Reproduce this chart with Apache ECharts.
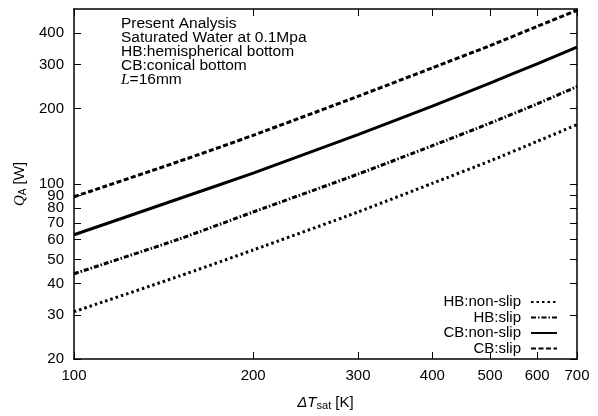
<!DOCTYPE html>
<html>
<head>
<meta charset="utf-8">
<script src="https://cdn.jsdelivr.net/npm/echarts@6/dist/echarts.min.js"></script>
<style>
html,body{margin:0;padding:0;background:#fff;}
#c{width:598px;height:416px;}
</style>
</head>
<body>
<div id="c"></div>
<script>
const xTicks = [100, 200, 300, 400, 500, 600, 700];
const yTicks = [20, 30, 40, 50, 60, 70, 80, 90, 100, 200, 300, 400];
const dT = [100, 150, 200, 300, 400, 500, 600, 700];
const hbNonSlip = [30.9, 42.8, 54.5, 77.3, 100.6, 123.6, 148, 172.6];
const hbSlip = [43.8, 60.2, 77.3, 109.5, 142.2, 175, 209, 245];
const cbNonSlip = [62.7, 87.3, 110.5, 157.6, 204.7, 253, 302, 352];
const cbSlip = [88.9, 123, 156.5, 224, 291, 357, 426, 494];
const seriesNames = ['HB:non-slip', 'HB:slip', 'CB:non-slip', 'CB:slip'];
const infoLines = ['Present Analysis', 'Saturated Water at 0.1Mpa', 'HB:hemispherical bottom', 'CB:conical bottom'];

const FONT = 'Liberation Sans, Arial, Helvetica, sans-serif';
const chart = echarts.init(document.getElementById('c'), null, {renderer: 'canvas'});

function pairs(ys) { return dT.map((x, i) => [x, ys[i]]); }

function xAx(pos, showLabel) {
  return {
    type: 'log', logBase: 10, min: 100, max: 700, position: pos,
    axisLine: {show: true, onZero: false, lineStyle: {color: '#000', width: 1.5}},
    axisTick: {show: true, inside: true, length: 7, customValues: xTicks, lineStyle: {color: '#000', width: 1}},
    axisLabel: {show: showLabel, customValues: xTicks, margin: 9, color: '#000', fontSize: 15, fontFamily: FONT},
    minorTick: {show: false}, splitLine: {show: false},
    name: showLabel ? '{i|ΔT}{s|sat} [K]' : '',
    nameLocation: 'middle', nameGap: 35,
    nameTextStyle: {color: '#000', fontSize: 15, fontFamily: FONT,
      rich: {i: {fontStyle: 'italic', fontSize: 15, fontFamily: FONT, color: '#000'},
             s: {fontSize: 11, fontFamily: FONT, color: '#000', padding: [6, 0, 0, 0]}}}
  };
}
function yAx(pos, showLabel) {
  return {
    type: 'log', logBase: 10, min: 20, max: 500, position: pos,
    axisLine: {show: true, onZero: false, lineStyle: {color: '#000', width: 1.5}},
    axisTick: {show: true, inside: true, length: 7, customValues: yTicks, lineStyle: {color: '#000', width: 1}},
    axisLabel: {show: showLabel, customValues: yTicks, margin: 10, color: '#000', fontSize: 15, fontFamily: FONT},
    minorTick: {show: false}, splitLine: {show: false},
    name: showLabel ? '{i|Q}{s|A} [W]' : '',
    nameLocation: 'middle', nameGap: 45, nameRotate: 90,
    nameTextStyle: {color: '#000', fontSize: 15, fontFamily: FONT,
      rich: {i: {fontStyle: 'italic', fontSize: 15, fontFamily: 'Liberation Serif, serif', color: '#000'},
             s: {fontSize: 10, fontFamily: FONT, color: '#000', padding: [6, 0, 0, 0]}}}
  };
}

const styles = [
  {type: [2.5, 3], width: 3},
  {type: [5, 2, 1.5, 2], width: 3},
  {type: 'solid', width: 3},
  {type: [5, 2.5], width: 3}
];
const dataSets = [hbNonSlip, hbSlip, cbNonSlip, cbSlip];

const option = {
  animation: false,
  backgroundColor: '#fff',
  color: ['#000', '#000', '#000', '#000'],
  textStyle: {fontFamily: FONT},
  grid: {left: 74, right: 21, top: 9, bottom: 52, containLabel: false},
  title: {
    text: infoLines.join('\n') + '\n{i|L}=16mm',
    left: 121, top: 17, padding: 0,
    textStyle: {color: '#000', fontSize: 15.5, fontWeight: 'normal', lineHeight: 14, fontFamily: FONT,
      rich: {i: {fontStyle: 'italic', fontFamily: 'Liberation Serif, serif', fontSize: 15.5, lineHeight: 14, color: '#000'}}}
  },
  legend: {
    orient: 'vertical', right: 40, bottom: 60, align: 'right',
    itemWidth: 26, itemHeight: 14, itemGap: 0.5, padding: 0,
    data: seriesNames,
    itemStyle: {opacity: 0},
    textStyle: {color: '#000', fontSize: 15, fontFamily: FONT, padding: [0, 5, 0, 0]}
  },
  xAxis: [xAx('bottom', true), xAx('top', false)],
  yAxis: [yAx('left', true), yAx('right', false)],
  series: seriesNames.map((n, i) => ({
    name: n, type: 'line', xAxisIndex: 0, yAxisIndex: 0,
    data: pairs(dataSets[i]), symbol: 'none', smooth: 0.2,
    itemStyle: {color: '#000'},
    lineStyle: {color: '#000', width: styles[i].width, type: styles[i].type, cap: 'butt'}
  }))
};
chart.setOption(option);
</script>
</body>
</html>
